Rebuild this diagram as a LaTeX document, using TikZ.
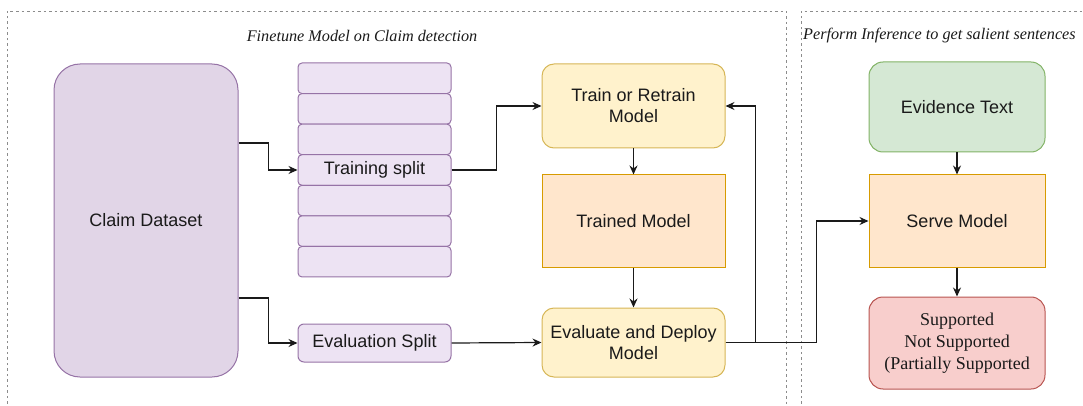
\documentclass[tikz,border=0pt]{standalone}
\usepackage{fontspec}
\setmainfont{Liberation Serif}
\setsansfont{Liberation Sans}
\usetikzlibrary{arrows.meta,calc}

\definecolor{purpFill}{HTML}{E1D5E7}
\definecolor{purpLight}{HTML}{EDE3F3}
\definecolor{purpLine}{HTML}{9673A6}
\definecolor{yelFill}{HTML}{FFF2CC}
\definecolor{yelLine}{HTML}{D6B656}
\definecolor{orFill}{HTML}{FFE6CC}
\definecolor{orLine}{HTML}{D79B00}
\definecolor{grFill}{HTML}{D5E8D4}
\definecolor{grLine}{HTML}{82B366}
\definecolor{redFill}{HTML}{F8CECC}
\definecolor{redLine}{HTML}{B85450}
\definecolor{frameGray}{HTML}{8C8C8C}
\definecolor{ink}{HTML}{1A1A1A}

\tikzset{
  box/.style={draw, line width=1pt, inner sep=2pt, align=center, text=ink,
    font=\sffamily\fontsize{18}{21}\selectfont},
  claimbox/.style={box, fill=purpFill, draw=purpLine, rounded corners=26pt},
  rowbox/.style={box, fill=purpLight, draw=purpLine, rounded corners=4pt,
    minimum width=153pt, minimum height=30.57pt},
  yelbox/.style={box, fill=yelFill, draw=yelLine, rounded corners=12pt,
    minimum width=183pt},
  orbox/.style={box, fill=orFill, draw=orLine},
  greenbox/.style={box, fill=grFill, draw=grLine, rounded corners=14pt},
  redbox/.style={box, fill=redFill, draw=redLine, rounded corners=14pt,
    font=\rmfamily\fontsize{18}{22}\selectfont},
  arr/.style={draw=ink, line width=1.2pt,
    -{Stealth[length=9pt,width=8pt,inset=3pt]}},
  frame/.style={draw=frameGray, line width=0.9pt, dash pattern=on 2.5pt off 3pt},
  heading/.style={text=ink, inner sep=0pt,
    font=\rmfamily\itshape\fontsize{16.2}{19}\selectfont}
}

\begin{document}
\begin{tikzpicture}[x=1pt, y=-1pt]
  \useasboundingbox (0,0) rectangle (1083,406);
  \clip (0,0) rectangle (1083,406);

  % section frames
  \draw[frame] (7,420) |- (786,11) -- (786,420);
  \draw[frame] (801,420) |- (1100,11);
  \node[heading] (hfine) at (362,36) {Finetune Model on Claim detection};
  \node[heading, anchor=west] (hinf) at (803,36) {Perform Inference to get salient sentences};

  % data
  \node[claimbox, minimum width=184pt, minimum height=313pt] (claim) at (146,220.5) {Claim Dataset};
  \foreach \i/\t in {1/,2/,3/,4/Training split,5/,6/,7/} {
    \node[rowbox] (row\i) at (374.5,{63+30.57*(\i-0.5)}) {\t};
  }
  \node[rowbox, rounded corners=6pt, minimum height=38pt] (evalsplit) at (374.5,343) {Evaluation Split};

  % training loop
  \node[yelbox, minimum height=84pt] (train) at (633.5,106) {Train or Retrain\\Model};
  \node[orbox, minimum width=183pt, minimum height=92pt] (trained) at (633.5,221) {Trained Model};
  \node[yelbox, minimum height=69pt] (evaluate) at (633.5,342.5) {Evaluate and Deploy\\Model};

  % inference
  \node[greenbox, minimum width=176pt, minimum height=90pt] (evidence) at (957,107) {Evidence Text};
  \node[orbox, minimum width=176pt, minimum height=92pt] (serve) at (957,221) {Serve Model};
  \node[redbox, minimum width=176pt, minimum height=92pt] (result) at (957,343)
    {Supported\\Not Supported\\(Partially Supported};

  % connectors
  \draw[arr] ([yshift=77.5pt]claim.east) -- ++(30,0) |- (row4.west);
  \draw[arr] ([yshift=-77.5pt]claim.east) -- ++(30,0) |- (evalsplit.west);
  \draw[arr] (row4.east) -- ++(45,0) |- (train.west);
  \draw[arr] (evalsplit.east) -- (evaluate.west);
  \draw[arr] (train.south) -- (trained.north);
  \draw[arr] (trained.south) -- (evaluate.north);
  \draw[arr] (evaluate.east) -- ++(30,0) |- (train.east);
  \draw[arr] (evaluate.east) -- ++(91,0) |- (serve.west);
  \draw[arr] (evidence.south) -- (serve.north);
  \draw[arr] (serve.south) -- (result.north);
\end{tikzpicture}
\end{document}
